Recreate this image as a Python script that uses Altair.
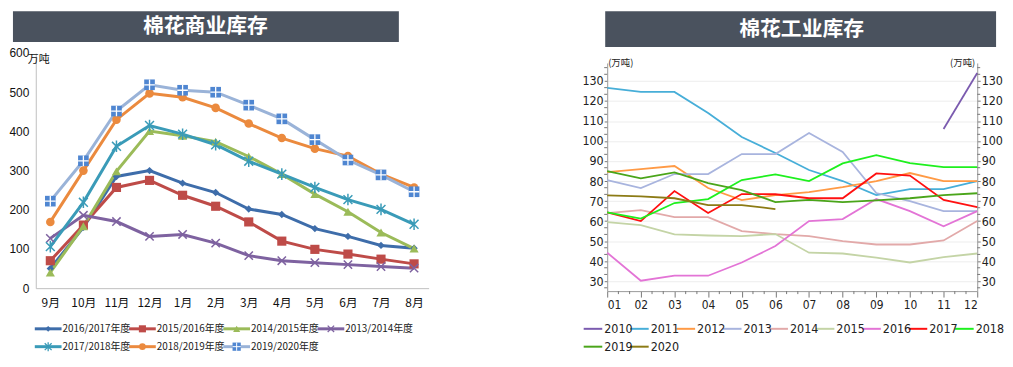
import altair as alt
import pandas as pd

CJK = "Noto Sans CJK SC"
NARROW = "Liberation Sans Narrow, DejaVu Sans Condensed, Arial Narrow, sans-serif"

# ---------------- left chart: 棉花商业库存 ----------------
left_title = "棉花商业库存"
left_unit = "万吨"
left_months = ["9月", "10月", "11月", "12月", "1月", "2月", "3月", "4月", "5月", "6月", "7月", "8月"]
left_series = ["2016/2017年度", "2015/2016年度", "2014/2015年度", "2013/2014年度",
               "2017/2018年度", "2018/2019年度", "2019/2020年度"]
v_2016_2017 = [50, 155, 285, 300, 268, 244, 202, 188, 152, 132, 109, 102]
v_2015_2016 = [70, 161, 257, 275, 237, 209, 169, 120, 99, 87, 74, 62]
v_2014_2015 = [40, 158, 298, 401, 389, 374, 336, 291, 240, 195, 142, 101]
v_2013_2014 = [127, 186, 170, 132, 137, 115, 83, 70, 65, 60, 55, 51]
v_2017_2018 = [106, 219, 362, 415, 393, 366, 324, 291, 257, 226, 201, 163]
v_2018_2019 = [169, 300, 430, 497, 487, 460, 420, 383, 356, 337, 291, 257]
v_2019_2020 = [222, 325, 452, 519, 505, 500, 467, 432, 379, 327, 289, 246]
left_values = [v_2016_2017, v_2015_2016, v_2014_2015, v_2013_2014,
               v_2017_2018, v_2018_2019, v_2019_2020]
left_y_ticks = [0, 100, 200, 300, 400, 500, 600]
left_line_colors = ["#3E6DAA", "#BE4B48", "#9BBB59", "#7E62A0", "#3A9BB8", "#EB8A3E", "#9AB3D8"]
left_marker_colors = ["#3E6DAA", "#BE4B48", "#9BBB59", "#7E62A0", "#3A9BB8", "#EB8A3E", "#4F86D1"]
XPATH = "M-1,-1L1,1M-1,1L1,-1"
ASTER = "M-1,-1L1,1M-1,1L1,-1M0,-1.3L0,1.3"
left_shapes = ["diamond", "square", "triangle-up", XPATH, ASTER, "circle", "square"]
left_filled = [True, True, True, False, False, True, True]
left_sizes = [55, 85, 85, 70, 80, 75, 115]

# ---------------- right chart: 棉花工业库存 ----------------
right_title = "棉花工业库存"
right_unit = "(万吨)"
right_months = [1, 2, 3, 4, 5, 6, 7, 8, 9, 10, 11, 12]
right_series = ["2010", "2011", "2012", "2013", "2014", "2015", "2016", "2017", "2018", "2019", "2020"]
r_2010 = [None, None, None, None, None, None, None, None, None, None, 106, 134]
r_2011 = [126.5, 124.5, 124.5, 114, 102, 94, 85.5, 80, 73, 76, 76, 80]
r_2012 = [84.5, 86, 87.5, 76.5, 70.5, 73, 74.5, 77, 80, 84, 80, 80]
r_2013 = [80.5, 76.5, 83.5, 83.5, 93.5, 93.5, 104, 94.5, 74, 70, 65, 65]
r_2014 = [64, 65.5, 62, 62, 55, 53.5, 52.5, 50, 48.3, 48.3, 50.3, 60]
r_2015 = [59.5, 58, 53.3, 52.8, 52.5, 53.5, 44.2, 43.8, 41.7, 39.3, 42, 43.8]
r_2016 = [44.2, 30.2, 32.7, 32.7, 39.3, 47.5, 60, 61, 71, 65, 57.4, 65]
r_2017 = [64.3, 60, 75, 64, 73.5, 73.4, 71.4, 71.4, 83.8, 82.7, 70.6, 67]
r_2018 = [64.3, 61.2, 69, 71, 80.5, 83.3, 80, 88.8, 92.9, 89, 87, 87]
r_2019 = [85, 81.3, 84.3, 79, 75.5, 69.5, 70.6, 69.5, 70.3, 71.4, 73, 73.9]
r_2020 = [72.8, 72.3, 71.4, 68, 68, 66, None, None, None, None, None, None]
right_values = [r_2010, r_2011, r_2012, r_2013, r_2014, r_2015, r_2016, r_2017, r_2018, r_2019, r_2020]
right_colors = ["#7B5BAF", "#47AED8", "#FF9A45", "#A8B4DE", "#E2A9A9", "#C4D4A6",
                "#E374D6", "#FF1010", "#1EF01E", "#4AA51A", "#8C7B15"]
right_y_ticks = [30, 40, 50, 60, 70, 80, 90, 100, 110, 120, 130]
right_minor_y = [30 + 10 * k / 3 for k in range(-1, 33) if k % 3 != 0]
right_minor_x = [1 + k / 3 for k in range(1, 33) if k % 3 != 0]

# ================= LEFT PANEL =================
dfL = pd.DataFrame([
    {"series": s, "month": m, "value": v}
    for s, vals in zip(left_series, left_values)
    for m, v in zip(left_months, vals)
])
W1, H1 = 396, 237
xL = alt.X("month:N", sort=left_months,
           scale=alt.Scale(type="point", padding=0.44),
           axis=alt.Axis(title=None, labelAngle=0, labelFont=CJK, labelFontSize=12,
                         labelPadding=9, ticks=False, domainColor="#BFBFBF",
                         labelColor="#111", grid=False))
yL = alt.Y("value:Q", scale=alt.Scale(domain=[0, 600], nice=False),
           axis=alt.Axis(title=None, values=left_y_ticks, ticks=False, grid=False,
                         domainColor="#BFBFBF", labelPadding=7, labelFontSize=12,
                         labelFont="Liberation Sans", labelColor="#111"))
baseL = alt.Chart(dfL).encode(x=xL, y=yL)

dfTL = pd.DataFrame({"t": [left_title], "u": [left_unit]})
left_layers = [
    alt.Chart(dfTL).mark_rect(color="#4A525E").encode(
        x=alt.value(-23), x2=alt.value(366), y=alt.value(-42), y2=alt.value(-11)),
    alt.Chart(dfTL).mark_text(color="white", font=CJK, fontSize=21, fontWeight="bold",
                              align="center", baseline="middle").encode(
        x=alt.value(171), y=alt.value(-26), text="t:N"),
    alt.Chart(dfTL).mark_text(color="#111", font=CJK, fontSize=11,
                              align="left", baseline="middle").encode(
        x=alt.value(-8), y=alt.value(7), text="u:N"),
]
for name, lc in zip(left_series, left_line_colors):
    left_layers.append(baseL.transform_filter(alt.datum.series == name)
                       .mark_line(color=lc, strokeWidth=3))
for name, mc, shp, fl, sz in zip(left_series, left_marker_colors, left_shapes, left_filled, left_sizes):
    f = baseL.transform_filter(alt.datum.series == name)
    if fl:
        left_layers.append(f.mark_point(shape=shp, filled=True, color=mc, size=sz, opacity=1))
    else:
        left_layers.append(f.mark_point(shape=shp, filled=False, color=mc, size=sz,
                                        strokeWidth=1.5, opacity=1))
    if name == "2019/2020年度":
        left_layers.append(f.mark_point(shape="M-1,0L1,0M0,-1L0,1", filled=False, color="white",
                                        size=sz, strokeWidth=1.3, opacity=1))
left_plot = alt.layer(*left_layers).properties(width=W1, height=H1)

# left legend
legL = pd.DataFrame({"series": left_series})
legL["col"] = [i if i < 4 else i - 4 for i in range(len(left_series))]
legL["row"] = [0 if i < 4 else 1 for i in range(len(left_series))]
legL["x0"] = legL["col"]
legL["x1"] = legL["col"] + 0.284
legL["xm"] = legL["col"] + 0.142
lxs = alt.Scale(domain=[0, 4], range=[-1, 379])
lys = alt.Scale(domain=[0, 1], range=[0, 18])
baseLeg = alt.Chart(legL)
leg_layers = []
for name, lc, mc, shp, fl, sz in zip(left_series, left_line_colors, left_marker_colors,
                                     left_shapes, left_filled, left_sizes):
    f = baseLeg.transform_filter(alt.datum.series == name)
    leg_layers.append(f.mark_rule(color=lc, strokeWidth=3).encode(
        x=alt.X("x0:Q", scale=lxs, axis=None), x2="x1:Q",
        y=alt.Y("row:Q", scale=lys, axis=None)))
    pe = dict(x=alt.X("xm:Q", scale=lxs, axis=None), y=alt.Y("row:Q", scale=lys, axis=None))
    if fl:
        leg_layers.append(f.mark_point(shape=shp, filled=True, color=mc, size=sz * 0.6, opacity=1).encode(**pe))
    else:
        leg_layers.append(f.mark_point(shape=shp, filled=False, color=mc, size=sz * 0.6,
                                       strokeWidth=1.3, opacity=1).encode(**pe))
    if name == "2019/2020年度":
        leg_layers.append(f.mark_point(shape="M-1,0L1,0M0,-1L0,1", filled=False, color="white",
                                       size=sz * 0.6, strokeWidth=1, opacity=1).encode(**pe))
leg_layers.append(baseLeg.mark_text(align="left", baseline="middle", dx=1, font=CJK,
                                    fontSize=10, color="#222").encode(
    x=alt.X("x1:Q", scale=lxs, axis=None), y=alt.Y("row:Q", scale=lys, axis=None),
    text="series:N"))
left_legend = alt.layer(*leg_layers).properties(width=W1, height=18)

left_panel = alt.vconcat(left_plot, left_legend, spacing=41, bounds="flush")

# ================= RIGHT PANEL =================
dfR = pd.DataFrame([
    {"series": s, "month": m, "value": v}
    for s, vals in zip(right_series, right_values)
    for m, v in zip(right_months, vals) if v is not None
])
W2, H2 = 373, 240
yR_scale = alt.Scale(domain=[25, 139], range=[240, 10], nice=False, zero=False)
xR = alt.X("month:Q", scale=alt.Scale(domain=[1, 12], nice=False, zero=False),
           axis=alt.Axis(title=None, values=right_months,
                         labelExpr="(datum.value < 10 ? '0' : '') + datum.value",
                         tickSize=6, tickColor="#777", domainColor="#999",
                         labelFont=NARROW, labelFontSize=12, labelPadding=3,
                         grid=False, labelColor="#222"))
yR = alt.Y("value:Q", scale=yR_scale,
           axis=alt.Axis(title=None, values=right_y_ticks, grid=True, gridColor="#EDEDED",
                         tickSize=3, tickColor="#777", domainColor="#999",
                         labelFont=NARROW, labelFontSize=12.5, labelPadding=1,
                         labelColor="#222"))
yR_right = alt.Y("value:Q", scale=yR_scale,
                 axis=alt.Axis(title=None, orient="right", values=right_y_ticks, grid=False,
                               tickSize=3, tickColor="#777", domainColor="#999",
                               labelFont=NARROW, labelFontSize=12.5, labelPadding=1,
                               labelColor="#222"))
color_R = alt.Color("series:N", scale=alt.Scale(domain=right_series, range=right_colors), legend=None)

dfMinY = pd.DataFrame({"value": right_minor_y})
dfMinX = pd.DataFrame({"month": right_minor_x})
dfTR = pd.DataFrame({"t": [right_title], "u": [right_unit]})

right_inner = alt.layer(
    alt.Chart(dfTR).mark_rect(color="#4A525E").encode(
        x=alt.value(-2), x2=alt.value(392), y=alt.value(-42), y2=alt.value(-6)),
    alt.Chart(dfTR).mark_text(color="white", font=CJK, fontSize=21, fontWeight="bold",
                              align="center", baseline="middle").encode(
        x=alt.value(196), y=alt.value(-23), text="t:N"),
    alt.Chart(dfR).mark_line(strokeWidth=1.8).encode(x=xR, y=yR, color=color_R),
    alt.Chart(dfMinY).mark_rule(color="#777", strokeWidth=1).encode(
        y=yR, x=alt.value(0), x2=alt.value(-3)),
    alt.Chart(dfMinX).mark_rule(color="#777", strokeWidth=1).encode(
        x=xR, y=alt.value(H2), y2=alt.value(H2 + 3)),
    alt.Chart(dfTR).mark_text(color="#222", font=CJK, fontSize=9.5,
                              align="left", baseline="middle").encode(
        x=alt.value(1), y=alt.value(10), text="u:N"),
    alt.Chart(dfTR).mark_text(color="#222", font=CJK, fontSize=9.5,
                              align="right", baseline="middle").encode(
        x=alt.value(W2 - 2), y=alt.value(10), text="u:N"),
)
right_axis_layer = alt.Chart(dfMinY).mark_rule(color="#777", strokeWidth=1).encode(
    y=yR_right, x=alt.value(W2), x2=alt.value(W2 + 3))
right_plot = alt.layer(right_inner, right_axis_layer).resolve_axis(y="independent").properties(
    width=W2, height=H2)

# right legend
legR = pd.DataFrame({"series": right_series})
legR["col"] = [i if i < 9 else i - 9 for i in range(len(right_series))]
legR["row"] = [0 if i < 9 else 1 for i in range(len(right_series))]
legR["x0"] = legR["col"]
legR["x1"] = legR["col"] + 0.4
rxs = alt.Scale(domain=[0, 8], range=[-23.7, 350.7])
rys = alt.Scale(domain=[0, 1], range=[0, 18])
right_legend = alt.layer(
    alt.Chart(legR).mark_rule(strokeWidth=2).encode(
        x=alt.X("x0:Q", scale=rxs, axis=None), x2="x1:Q",
        y=alt.Y("row:Q", scale=rys, axis=None), color=color_R),
    alt.Chart(legR).mark_text(align="left", baseline="middle", dx=2, font=NARROW,
                              fontSize=12.5, color="#222").encode(
        x=alt.X("x1:Q", scale=rxs, axis=None), y=alt.Y("row:Q", scale=rys, axis=None),
        text="series:N"),
).properties(width=W2, height=18)

right_panel = alt.vconcat(right_plot, right_legend, spacing=38, bounds="flush")

chart = alt.hconcat(left_panel, right_panel, spacing=154,
                    padding={"left": 0, "top": 2, "right": 0, "bottom": 0}).configure_view(
    strokeWidth=0, stroke="transparent")

chart.save("out.html", embed_options={"renderer": "svg", "actions": False})
